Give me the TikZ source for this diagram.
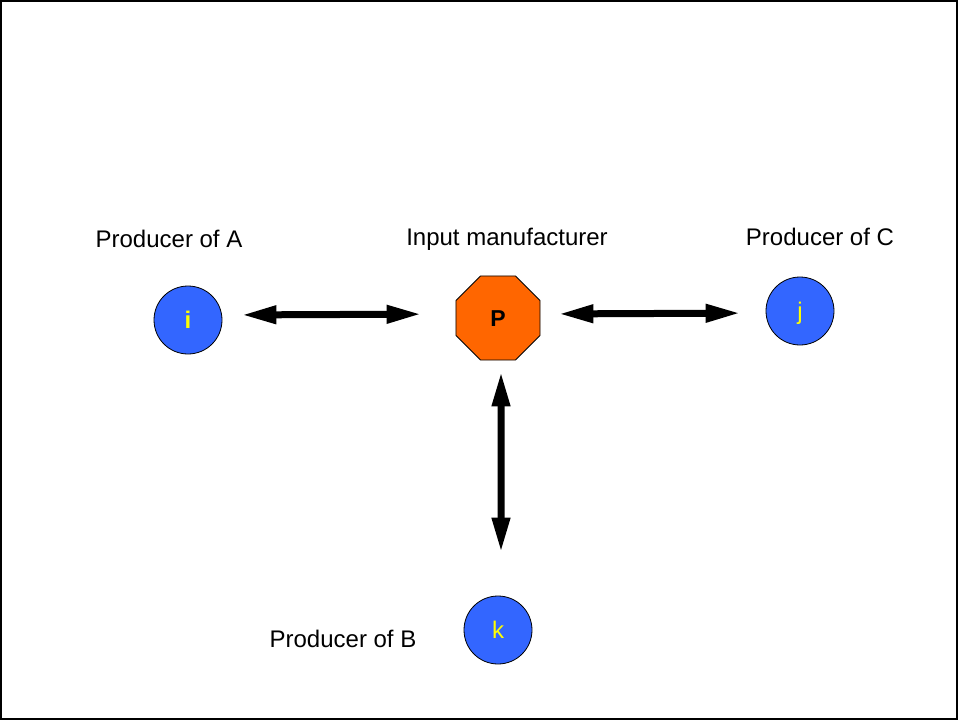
\documentclass[tikz,border=0pt]{standalone}
\usepackage{fontspec}
\setmainfont{Liberation Sans}
\usetikzlibrary{arrows.meta,shapes.geometric}
\definecolor{prodblue}{HTML}{3366FF}
\definecolor{mfgorange}{HTML}{FF6600}
\definecolor{lettyellow}{HTML}{FFFF00}
\begin{document}
\begin{tikzpicture}[
x=1pt, y=-1pt,
producer/.style={circle, draw=black, line width=0.8pt, fill=prodblue,
  minimum size=68pt, inner sep=0pt, text=lettyellow,
  font=\fontsize{24}{28}\selectfont, text height=17pt, text depth=0pt},
maker/.style={regular polygon, regular polygon sides=8, draw=black,
  line width=0.8pt, fill=mfgorange, minimum size=91pt, inner sep=0pt,
  font=\fontsize{23}{27}\selectfont\bfseries, text height=16pt, text depth=0pt},
tag/.style={anchor=base, inner sep=0pt, font=\fontsize{24}{28}\selectfont},
link/.style={line width=7pt, {Triangle[length=35pt,width=17pt]}-{Triangle[length=35pt,width=17pt]}},
]
\useasboundingbox (0,0) rectangle (958,720);
\draw[line width=2pt] (1,1) rectangle (957,719);

\node[producer] (i) at (188,320) {\bfseries i};
\node[maker] (P) at (498,318) {P};
\node[producer] (j) at (800,311) {j};
\node[producer] (k) at (498,630) {k};

\node[tag] (labA) at (169,247) {Producer of A};
\node[tag] (labP) at (507,245) {Input manufacturer};
\node[tag] (labC) at (820,245) {Producer of C};
\node[tag] (labB) at (343,647) {Producer of B};

\draw[link, shorten <=19pt, shorten >=34pt] ([yshift=5pt]i.east) -- ([yshift=4pt]P.west);
\draw[link, shorten <=18pt, shorten >=25pt] ([yshift=4pt]P.east) -- ([yshift=-2pt]j.west);
\draw[link, shorten <=11pt, shorten >=43pt] ([xshift=3pt]P.south) -- ([xshift=3pt]k.north);
\end{tikzpicture}
\end{document}
